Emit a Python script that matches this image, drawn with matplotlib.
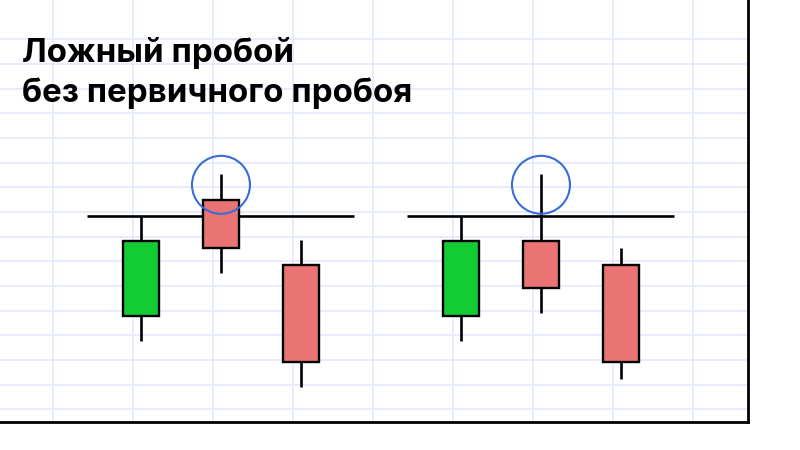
import matplotlib
matplotlib.use("Agg")
import matplotlib.pyplot as plt
from matplotlib.patches import Ellipse

plt.rcParams['font.family'] = ['Inter', 'DejaVu Sans']

TITLE_LINES = ["Ложный пробой", "без первичного пробоя"]

# candle positions (grid units) and OHLC values (price units, 1 = one grid row)
x_pos = [1.1, 2.1, 3.1, 5.1, 6.1, 7.1]
opens = [3.78, 8.49, 5.85, 3.78, 6.84, 5.85]
closes = [6.84, 6.55, 1.92, 6.84, 4.92, 1.92]
highs = [7.85, 9.54, 6.86, 7.85, 9.54, 6.55]
lows = [2.77, 5.53, 0.91, 2.77, 3.91, 1.23]

level = 7.85
level_groups = [(0, 2), (3, 5)]   # first / last candle of each pattern
circle_idx = [1, 4]
circle_y = 9.1

GREEN = "#13cc34"
RED = "#ea7474"
BLUE = "#3a6cd8"
GRID = "#e6e8fd"

fig = plt.figure(figsize=(8, 4.5), dpi=100)
ax = fig.add_axes([0, 1 - 421.7 / 450, 748 / 800, 421.7 / 450])
ax.set_xlim(-0.6625, 8.6875)
ax.set_ylim(-0.5, 16.59)

ax.set_xticks(range(0, 9))
ax.set_yticks(range(0, 16))
ax.tick_params(length=0, labelbottom=False, labelleft=False)
ax.grid(True, color=GRID, linewidth=1.3)
ax.set_axisbelow(True)
for side in ("top", "left"):
    ax.spines[side].set_visible(False)
for side in ("right", "bottom"):
    ax.spines[side].set_linewidth(2.0)
    ax.spines[side].set_color("black")

# level lines
for first, last in level_groups:
    ax.hlines(level, x_pos[first] - 0.675, x_pos[last] + 0.66,
              color="black", linewidth=1.9, zorder=2)

# wicks
ax.vlines(x_pos, lows, highs, color="black", linewidth=1.9, zorder=3)

# bodies
bottoms = [min(o, c) for o, c in zip(opens, closes)]
heights = [abs(c - o) for o, c in zip(opens, closes)]
colors = [GREEN if c > o else RED for o, c in zip(opens, closes)]
ax.bar(x_pos, heights, bottom=bottoms, width=0.44, color=colors,
       edgecolor="black", linewidth=1.7, zorder=4)

# highlight circles
for i in circle_idx:
    ax.add_patch(Ellipse((x_pos[i], circle_y), 0.725, 2.35, fill=False,
                         edgecolor=BLUE, linewidth=1.5, zorder=5))

for line, base in zip(TITLE_LINES, [61.7, 101.7]):
    fig.text(21.5 / 800, 1 - base / 450, line, fontsize=23.8,
             fontweight="bold", ha="left", va="baseline", color="black")

fig.savefig("out.png", dpi=100)
